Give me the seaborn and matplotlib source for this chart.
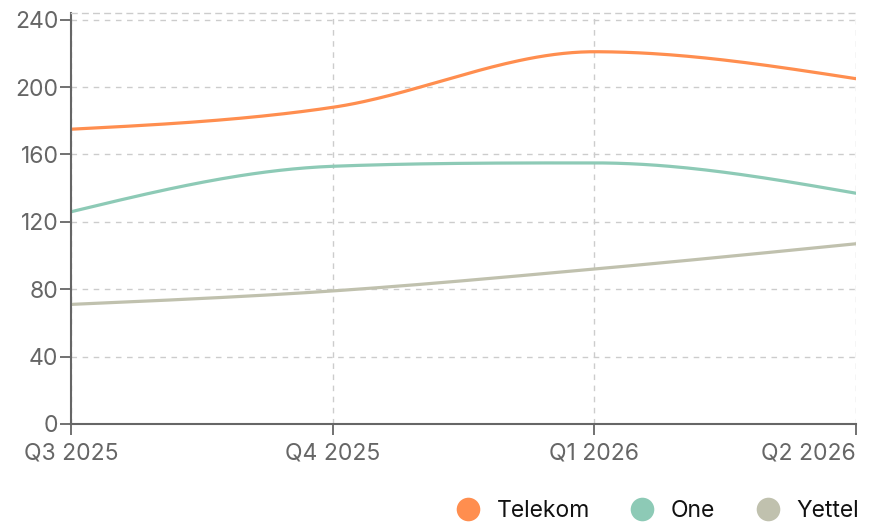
import numpy as np
import pandas as pd
import seaborn as sns
import matplotlib.pyplot as plt
from matplotlib.lines import Line2D

quarters = ["Q3 2025", "Q4 2025", "Q1 2026", "Q2 2026"]
telekom = [175, 188, 221, 205]
one = [126, 153, 155, 137]
yettel = [71, 79, 92, 107]

series = {"Telekom": telekom, "One": one, "Yettel": yettel}
colors = {"Telekom": "#FF8E4F", "One": "#8DCAB6", "Yettel": "#C0C1AE"}


def monotone_curve(y, n=60):
    # monotone cubic (Fritsch-Carlson), like d3.curveMonotoneX, for drawing only
    y = np.asarray(y, dtype=float)
    x = np.arange(len(y), dtype=float)
    d = np.diff(y)
    m = np.zeros_like(y)
    for i in range(1, len(y) - 1):
        if d[i - 1] * d[i] <= 0:
            m[i] = 0
        else:
            p = (d[i - 1] + d[i]) / 2
            m[i] = np.sign(d[i]) * min(abs(p), 3 * abs(d[i - 1]), 3 * abs(d[i]))
    m[0] = (3 * d[0] - m[1]) / 2
    m[-1] = (3 * d[-1] - m[-2]) / 2
    xs, ys = [], []
    for i in range(len(y) - 1):
        t = np.linspace(0, 1, n)
        h00 = 2 * t**3 - 3 * t**2 + 1
        h10 = t**3 - 2 * t**2 + t
        h01 = -2 * t**3 + 3 * t**2
        h11 = t**3 - t**2
        xs.append(x[i] + t)
        ys.append(h00 * y[i] + h10 * m[i] + h01 * y[i + 1] + h11 * m[i + 1])
    return np.concatenate(xs), np.concatenate(ys)


rows = []
for name, vals in series.items():
    xs, ys = monotone_curve(vals)
    rows.append(pd.DataFrame({"x": xs, "y": ys, "operator": name}))
df = pd.concat(rows)

sns.set_style("white")
plt.rcParams["font.family"] = ["Inter", "DejaVu Sans"]

fig = plt.figure(figsize=(8.73, 5.22), dpi=100)
ax = fig.add_axes([71 / 873, 98 / 522, 785 / 873, 411 / 522])

sns.lineplot(df, x="x", y="y", hue="operator", palette=colors,
             linewidth=2.3, legend=False, ax=ax, sort=False)

ax.set_xlim(0, 3)
ax.set_ylim(0, 244)
ax.set_xticks(range(len(quarters)))
ax.set_xticklabels(quarters)
ax.set_yticks(range(0, 241, 40))
ax.set_xlabel("")
ax.set_ylabel("")

ax.grid(True, linestyle=(0, (4, 4)), color="#CCCCCC", linewidth=1)
ax.set_axisbelow(True)
for s in ["left", "bottom"]:
    ax.spines[s].set_color("#666666")
    ax.spines[s].set_linewidth(1.5)
ax.spines["right"].set_visible(False)
ax.spines["top"].set_linestyle((0, (4, 4)))
ax.spines["top"].set_color("#CCCCCC")
ax.spines["top"].set_linewidth(1)
ax.tick_params(axis="both", direction="out", length=8, width=1.3,
               color="#666666", labelcolor="#666666", labelsize=16.5,
               left=True, bottom=True)
ax.tick_params(axis="y", pad=1)
ax.tick_params(axis="x", pad=5)
for lbl, ha in zip(ax.get_xticklabels(), ["center", "center", "center", "right"]):
    lbl.set_horizontalalignment(ha)

handles = [Line2D([], [], marker="o", linestyle="", markersize=17,
                  markerfacecolor=colors[n], markeredgecolor="none", label=n)
           for n in series]
leg = fig.legend(handles=handles, loc="lower right", bbox_to_anchor=(1.0, -0.027),
                 ncol=3, frameon=False, fontsize=16.5, handletextpad=0.25,
                 columnspacing=1.3, borderaxespad=0.2)
for t in leg.get_texts():
    t.set_color("#111111")

fig.savefig("out.png", dpi=100)
